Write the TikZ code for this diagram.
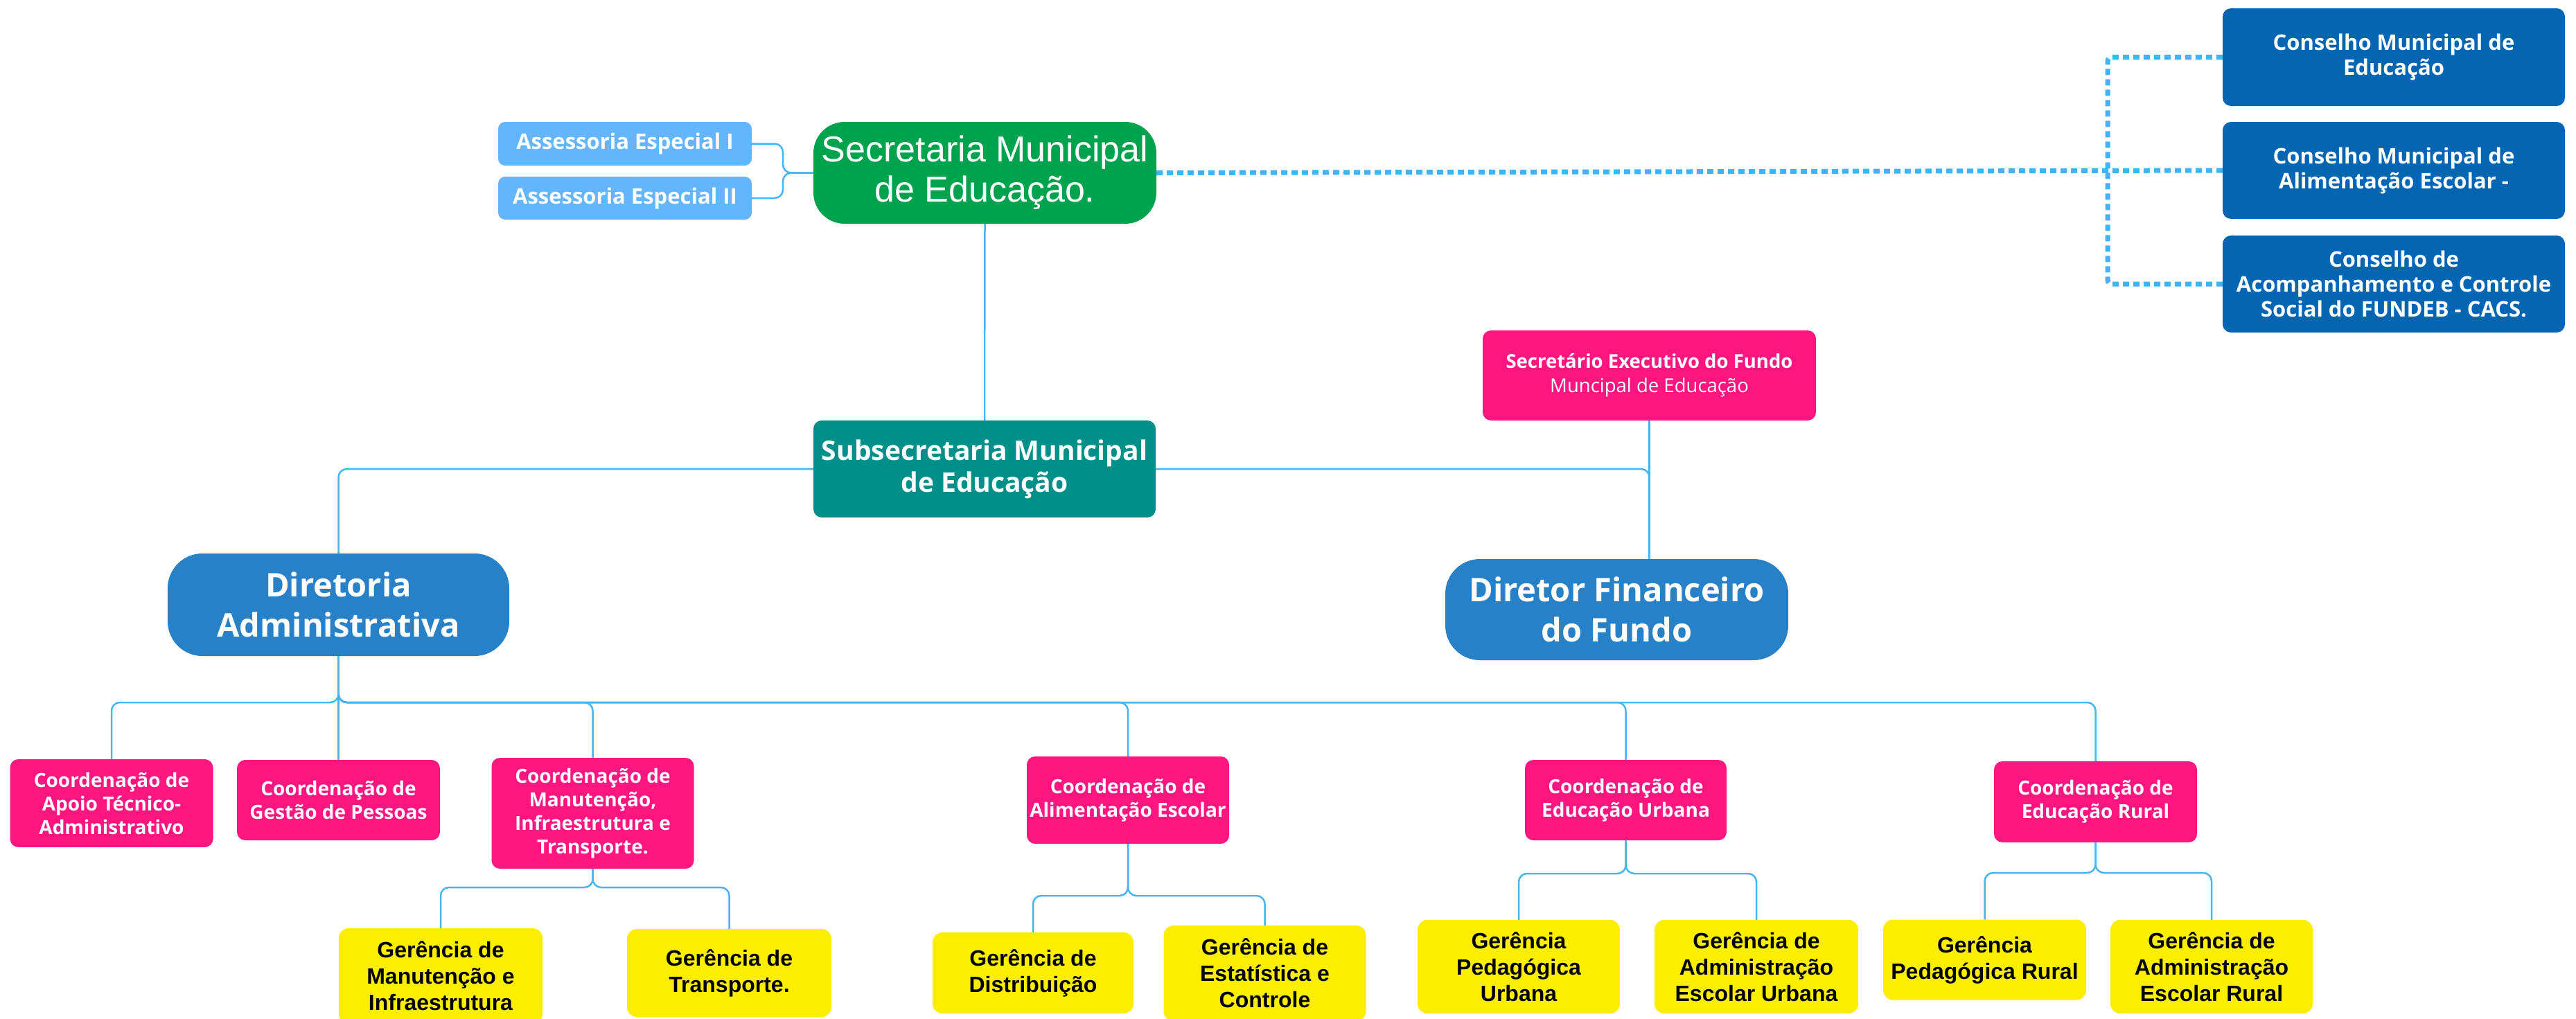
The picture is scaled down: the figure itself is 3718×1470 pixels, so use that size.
\documentclass[tikz,border=0pt]{standalone}
\usepackage{fontspec}
\setmainfont{Open Sans}
\newfontfamily\arialf{Liberation Sans}
\definecolor{cgreen}{HTML}{00A34D}
\definecolor{cass}{HTML}{64B5FC}
\definecolor{cteal}{HTML}{009089}
\definecolor{cdir}{HTML}{2880C7}
\definecolor{ccons}{HTML}{0466B3}
\definecolor{cpink}{HTML}{FE1680}
\definecolor{cyel}{HTML}{FCEE00}
\definecolor{cline}{HTML}{47B6F0}
\definecolor{cdot}{HTML}{3DB5FB}
\tikzset{
  base/.style={rectangle, inner sep=0pt, align=center, text=white},
  asbox/.style={base, fill=cass, rounded corners=10pt, font=\bfseries\fontsize{31}{34}\selectfont},
  smbox/.style={base, fill=cgreen, rounded corners=45pt, font=\arialf\fontsize{52}{58}\selectfont},
  kbox/.style={base, fill=ccons, rounded corners=12pt, font=\bfseries\fontsize{31}{36}\selectfont},
  subbox/.style={base, fill=cteal, rounded corners=12pt, font=\bfseries\fontsize{39}{46}\selectfont},
  dirbox/.style={base, fill=cdir, rounded corners=50pt, font=\bfseries\fontsize{47}{58}\selectfont},
  pbox/.style={base, fill=cpink, rounded corners=12pt, font=\bfseries\fontsize{28}{34}\selectfont},
  secbox/.style={base, fill=cpink, rounded corners=12pt, font=\fontsize{27.5}{35}\selectfont},
  ybox/.style={base, fill=cyel, text=black, rounded corners=14pt, font=\arialf\bfseries\fontsize{32}{38}\selectfont},
  conn/.style={draw=cline, line width=2.5pt, rounded corners=12pt},
  dotc/.style={draw=cdot, line width=7pt, dash pattern=on 9pt off 6pt, rounded corners=6pt},
}
\begin{document}
\begin{tikzpicture}[x=1pt,y=-1pt]
\useasboundingbox (0,0) rectangle (3718,1470);
% top level
\node[smbox, minimum width=495pt, minimum height=147pt] (sm) at (1421.5,249.5) {Secretaria Municipal\\de Educação.};
\node[asbox, minimum width=366pt, minimum height=63pt] (a1) at (902,207.5) {Assessoria Especial I};
\node[asbox, minimum width=366pt, minimum height=62pt] (a2) at (902,286) {Assessoria Especial II};
\node[kbox, minimum width=494pt, minimum height=141pt] (k1) at (3455,82.5) {Conselho Municipal de\\Educação};
\node[kbox, minimum width=494pt, minimum height=140pt] (k2) at (3455,246) {Conselho Municipal de\\Alimentação Escolar -};
\node[kbox, minimum width=494pt, minimum height=140pt] (k3) at (3455,410) {Conselho de\\Acompanhamento e Controle\\Social do FUNDEB - CACS.};
\node[secbox, minimum width=481pt, minimum height=130pt] (sec) at (2380.5,542) {{\bfseries Secretário Executivo do Fundo}\\Muncipal de Educação};
\node[subbox, minimum width=494pt, minimum height=140pt] (sub) at (1421,677) {Subsecretaria Municipal\\de Educação};
\node[dirbox, minimum width=493pt, minimum height=148pt] (da) at (488.5,873) {Diretoria\\Administrativa};
\node[dirbox, minimum width=495pt, minimum height=146pt] (df) at (2333.5,880) {Diretor Financeiro\\do Fundo};
% coordinations
\node[pbox, minimum width=293pt, minimum height=127pt] (c1) at (161,1159.5) {Coordenação de\\Apoio Técnico-\\Administrativo};
\node[pbox, minimum width=293pt, minimum height=116pt] (c2) at (488.5,1155) {Coordenação de\\Gestão de Pessoas};
\node[pbox, minimum width=292pt, minimum height=160pt] (c3) at (855.5,1174) {Coordenação de\\Manutenção,\\Infraestrutura e\\Transporte.};
\node[pbox, minimum width=292pt, minimum height=126pt] (c4) at (1628,1155) {Coordenação de\\Alimentação Escolar};
\node[pbox, minimum width=291pt, minimum height=116pt] (c5) at (2346.5,1155) {Coordenação de\\Educação Urbana};
\node[pbox, minimum width=293pt, minimum height=117pt] (c6) at (3024.5,1157.5) {Coordenação de\\Educação Rural};
% gerencias
\node[ybox, minimum width=294pt, minimum height=138pt] (g1) at (636,1409) {Gerência de\\Manutenção e\\Infraestrutura};
\node[ybox, minimum width=295pt, minimum height=127pt] (g2) at (1052.5,1404.5) {Gerência de\\Transporte.};
\node[ybox, minimum width=290pt, minimum height=117pt] (g3) at (1491,1404.5) {Gerência de\\Distribuição};
\node[ybox, minimum width=292pt, minimum height=138pt] (g4) at (1825.5,1405) {Gerência de\\Estatística e\\Controle};
\node[ybox, minimum width=292pt, minimum height=135pt] (g5) at (2192,1395.5) {Gerência\\Pedagógica\\Urbana};
\node[ybox, minimum width=294pt, minimum height=135pt] (g6) at (2535,1395.5) {Gerência de\\Administração\\Escolar Urbana};
\node[ybox, minimum width=293pt, minimum height=116pt] (g7) at (2864.5,1385.5) {Gerência\\Pedagógica Rural};
\node[ybox, minimum width=292pt, minimum height=135pt] (g8) at (3192,1395.5) {Gerência de\\Administração\\Escolar Rural};
% junction coordinates
\coordinate (brk) at (1130,249.5);
\coordinate (dv) at (3042,246);
\coordinate (bDA) at (488.5,1014);
\coordinate (b3) at (855.5,1281);
\coordinate (b4) at (1628,1293);
\coordinate (b5) at (2346.5,1261);
\coordinate (b6) at (3024.5,1260);
% connectors
\draw[conn] (sm.west) -- (brk) |- (a1.east);
\draw[conn] (sm.west) -- (brk) |- (a2.east);
\draw[conn] (sm.south) -- (sub.north);
\draw[conn] (sub.west) -| (da.north);
\draw[conn] (sub.east) -| (sec.south |- df.north);
\draw[conn] (sec.south) -- (sec.south |- df.north);
\draw[conn] (da.south) -- (c2.north);
\draw[conn] (da.south) -- (bDA) -| (c1.north);
\draw[conn] (da.south) -- (bDA) -| (c3.north);
\draw[conn] (da.south) -- (bDA) -| (c4.north);
\draw[conn] (da.south) -- (bDA) -| (c5.north);
\draw[conn] (da.south) -- (bDA) -| (c6.north);
\draw[conn] (c3.south) -- (b3) -| (g1.north);
\draw[conn] (c3.south) -- (b3) -| (g2.north);
\draw[conn] (c4.south) -- (b4) -| (g3.north);
\draw[conn] (c4.south) -- (b4) -| (g4.north);
\draw[conn] (c5.south) -- (b5) -| (g5.north);
\draw[conn] (c5.south) -- (b5) -| (g6.north);
\draw[conn] (c6.south) -- (b6) -| (g7.north);
\draw[conn] (c6.south) -- (b6) -| (g8.north);
% dotted council links
\draw[dotc] (sm.east) -- (k2.west);
\draw[dotc] (k1.west) -| (dv) |- (k3.west);
\end{tikzpicture}
\end{document}
